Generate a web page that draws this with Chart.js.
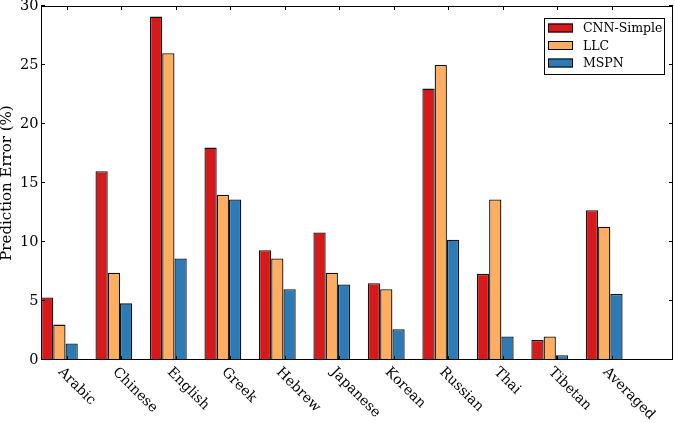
<!DOCTYPE html>
<html>
<head>
<meta charset="utf-8">
<script src="https://cdn.jsdelivr.net/npm/chart.js@4.4.1/dist/chart.umd.min.js"></script>
<style>
  html, body { margin: 0; padding: 0; background: #fff; }
  #wrap { width: 675px; height: 423px; }
</style>
</head>
<body>
<div id="wrap"><canvas id="error-chart"></canvas></div>
<script>
const categories = ['Arabic', 'Chinese', 'English', 'Greek', 'Hebrew', 'Japanese', 'Korean', 'Russian', 'Thai', 'Tibetan', 'Averaged'];
const cnnSimple = [5.3, 16.0, 29.1, 18.0, 9.3, 10.8, 6.5, 23.0, 7.3, 1.7, 12.7];
const llc = [3.0, 7.4, 26.0, 14.0, 8.6, 7.4, 6.0, 25.0, 13.6, 2.0, 11.3];
const mspn = [1.4, 4.8, 8.6, 13.6, 6.0, 6.4, 2.6, 10.2, 2.0, 0.4, 5.6];
const yTicks = [0, 5, 10, 15, 20, 25, 30];

const FONT = "'DejaVu Serif', 'Liberation Serif', serif";
// each group of three bars starts on an integer position, like ax.bar(ind + k*width)
const groupCenter = 0.3375;
const tickOffset = 0.475;
const labelOffset = 0.445;

const toPoints = (values) => values.map((v, i) => ({ x: i + groupCenter, y: v }));

// matplotlib-like frame with inward ticks on all four sides
const framePlugin = {
    id: 'frame',
    afterDatasetsDraw(chart) {
        const { ctx, chartArea: a, scales: { x, y } } = chart;
        ctx.save();
        ctx.strokeStyle = '#000';
        ctx.lineWidth = 1;
        ctx.beginPath();
        yTicks.forEach((v) => {
            const py = Math.round(y.getPixelForValue(v)) - 0.5;
            ctx.moveTo(a.left, py);
            ctx.lineTo(a.left + 4, py);
            ctx.moveTo(a.right, py);
            ctx.lineTo(a.right - 4, py);
        });
        categories.forEach((c, i) => {
            const px = Math.round(x.getPixelForValue(i + tickOffset)) + 0.5;
            ctx.moveTo(px, a.top);
            ctx.lineTo(px, a.top + 4);
            ctx.moveTo(px, a.bottom);
            ctx.lineTo(px, a.bottom - 4);
        });
        ctx.stroke();
        ctx.strokeRect(a.left + 0.5, a.top + 0.5, a.right - a.left - 1, a.bottom - a.top - 1);

        // rotated category labels
        ctx.fillStyle = '#000';
        ctx.font = `14px ${FONT}`;
        ctx.textAlign = 'left';
        ctx.textBaseline = 'top';
        categories.forEach((c, i) => {
            ctx.save();
            ctx.translate(x.getPixelForValue(i + labelOffset), a.bottom + 5);
            ctx.rotate(Math.PI / 4);
            ctx.fillText(c, 0, 0);
            ctx.restore();
        });

        // legend box, upper right
        const datasets = chart.data.datasets;
        const boxRight = a.right - 8;
        const boxLeft = boxRight - 121;
        const boxTop = a.top + 12;
        const rowH = 17.5;
        ctx.fillStyle = '#fff';
        ctx.fillRect(boxLeft, boxTop, 121, 57);
        ctx.strokeRect(boxLeft + 0.5, boxTop + 0.5, 120, 56);
        ctx.font = `12.5px ${FONT}`;
        ctx.textBaseline = 'middle';
        datasets.forEach((ds, k) => {
            const cy = boxTop + 10 + k * rowH;
            ctx.fillStyle = ds.backgroundColor;
            ctx.fillRect(boxLeft + 4, cy - 4.5, 25, 9);
            ctx.strokeRect(boxLeft + 4.5, cy - 4, 24, 8);
            ctx.fillStyle = '#000';
            ctx.fillText(ds.label, boxLeft + 39, cy + 1);
        });
        ctx.restore();
    },
};

new Chart(document.getElementById('error-chart'), {
    type: 'bar',
    data: {
        datasets: [
            { label: 'CNN-Simple', data: toPoints(cnnSimple), backgroundColor: '#d7191c' },
            { label: 'LLC', data: toPoints(llc), backgroundColor: '#fdae61' },
            { label: 'MSPN', data: toPoints(mspn), backgroundColor: '#2c7bb6' },
        ],
    },
    options: {
        responsive: true,
        maintainAspectRatio: false,
        animation: false,
        layout: {
            padding: { top: 6, right: 2, bottom: 63, left: 0 },
        },
        datasets: {
            bar: {
                borderColor: '#111',
                borderWidth: 1.3,
                borderSkipped: 'start',
                categoryPercentage: 0.675,
                barPercentage: 1.0,
            },
        },
        plugins: {
            legend: { display: false },
            tooltip: { enabled: false },
        },
        scales: {
            x: {
                type: 'linear',
                display: false,
                offset: false,
                grid: { offset: false },
                min: 0,
                max: 11.6,
                afterBuildTicks: (s) => {
                    s.ticks = categories.map((c, i) => ({ value: i + tickOffset }));
                },
            },
            y: {
                min: 0,
                max: 30,
                grid: { display: false, drawTicks: false },
                border: { display: false },
                afterBuildTicks: (s) => {
                    s.ticks = yTicks.map((v) => ({ value: v }));
                },
                afterFit: (s) => {
                    s.width = 41;
                    s.paddingTop = 0;
                    s.paddingBottom = 0;
                },
                ticks: {
                    color: '#000',
                    padding: 2.5,
                    font: { family: FONT, size: 14.5 },
                },
                title: {
                    display: true,
                    text: 'Prediction Error (%)',
                    color: '#000',
                    padding: 0,
                    font: { family: FONT, size: 15, lineHeight: 1 },
                },
            },
        },
    },
    plugins: [framePlugin],
});
</script>
</body>
</html>
